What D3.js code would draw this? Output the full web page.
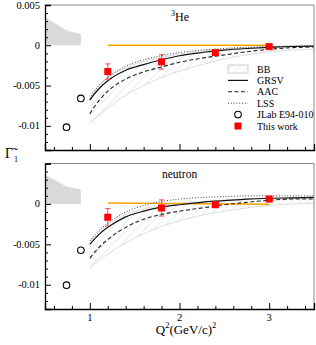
<!DOCTYPE html>
<html>
<head>
<meta charset="utf-8">
<script src="https://cdn.jsdelivr.net/npm/d3@7"></script>
<style>
  body { margin: 0; background: #fff; }
  svg { display: block; font-family: "Liberation Serif", "DejaVu Serif", serif; }
</style>
</head>
<body>
<svg id="chart" width="316" height="345"></svg>
<script>
// Q^2 grid for the model curves
var q2Grid = [1.0, 1.1, 1.2, 1.4, 1.6, 1.8, 2.0, 2.25, 2.5, 2.75, 3.0, 3.25, 3.5];

// 3He panel
var he3GRSV = [-0.0068, -0.0054, -0.0044, -0.0031, -0.0024, -0.0018, -0.0013, -0.0009, -0.0006, -0.0004, -0.00025, -0.00015, -0.0001];
var he3LSS  = [-0.0066, -0.0050, -0.0040, -0.0026, -0.0018, -0.0013, -0.0009, -0.0006, -0.0004, -0.00025, -0.00015, -0.0001, -0.00005];
var he3AAC  = [-0.0085, -0.0069, -0.0057, -0.0042, -0.0033, -0.0027, -0.0021, -0.0016, -0.0012, -0.0008, -0.0005, -0.0003, -0.0002];
var he3BBLo = [-0.0097, -0.0087, -0.0078, -0.0062, -0.0050, -0.0040, -0.0032, -0.0024, -0.0017, -0.0012, -0.0008, -0.0006, -0.0005];
var he3BBHi = [-0.0062, -0.0050, -0.0040, -0.0028, -0.0020, -0.0015, -0.0011, -0.0007, -0.0005, -0.0003, -0.0002, -0.0001, -0.0001];

// neutron panel
var nGRSV = [-0.0050, -0.0038, -0.0029, -0.0016, -0.0009, -0.0004, -0.0001, 0.0002, 0.0004, 0.0006, 0.0007, 0.00075, 0.0008];
var nLSS  = [-0.0046, -0.0033, -0.0024, -0.0010, -0.0002, 0.0003, 0.0006, 0.0008, 0.0009, 0.0010, 0.0010, 0.0010, 0.0010];
var nAAC  = [-0.0067, -0.0054, -0.0044, -0.0029, -0.0019, -0.0013, -0.0009, -0.0005, -0.0001, 0.0002, 0.00045, 0.0006, 0.0006];
var nBBLo = [-0.0080, -0.0070, -0.0062, -0.0048, -0.0037, -0.0028, -0.0021, -0.0014, -0.0009, -0.0005, -0.0002, 0.0000, 0.0001];
var nBBHi = [-0.0046, -0.0035, -0.0026, -0.0013, -0.0006, -0.0002, 0.0001, 0.0003, 0.0005, 0.0006, 0.00065, 0.0007, 0.0007];

// This work (red squares)
var workQ2 = [1.2, 1.8, 2.4, 3.0];
var he3Work = [-0.00326, -0.00206, -0.00091, -0.00017];
var he3WorkErr = [0.00095, 0.0009, 0.00025, 0.0002];
var nWork = [-0.00165, -0.0005, -0.0001, 0.0006];
var nWorkErr = [0.00107, 0.001, 0.0003, 0.0002];

// JLab E94-010 (open circles)
var jlabQ2 = [0.74, 0.90];
var he3Jlab = [-0.01017, -0.0066];
var nJlab = [-0.01005, -0.00573];

// gray shaded region at low Q^2
var shadeQ2 = [0.5, 0.74, 0.9];
var he3Shade = [0.0035, 0.00185, 0.0014];
var nShade = [0.0036, 0.00217, 0.00177];

// orange line
var orangeQ2 = [1.2, 3.0];
var he3Orange = [0, 0];
var nOrange = [0.0001, -0.00005];

var he3YTicks = [0.005, 0, -0.005, -0.01];
var he3YTickLabels = ['0.005', '0', '-0.005', '-0.01'];
var nYTicks = [0, -0.005, -0.01];
var nYTickLabels = ['0', '-0.005', '-0.01'];
var xTicks = [1, 2, 3];

var legendItems = ['BB', 'GRSV', 'AAC', 'LSS', 'JLab E94-010', 'This work'];

var svg = d3.select('#chart');

var x = d3.scaleLinear().domain([0.5, 3.5]).range([45, 314]);

var defs = svg.append('defs');
var pat = defs.append('pattern')
  .attr('id', 'hatch')
  .attr('patternUnits', 'userSpaceOnUse')
  .attr('width', 6)
  .attr('height', 6)
  .attr('patternTransform', 'rotate(45)');
pat.append('line')
  .attr('x1', 0).attr('y1', 0).attr('x2', 0).attr('y2', 6)
  .attr('stroke', '#d2d2d2').attr('stroke-width', 0.9);

var panels = [
  {
    top: 5, bottom: 150, label: '3He', labelX: 171, labelY: 21,
    grsv: he3GRSV, lss: he3LSS, aac: he3AAC, bbLo: he3BBLo, bbHi: he3BBHi,
    work: he3Work, workErr: he3WorkErr, jlab: he3Jlab, shade: he3Shade,
    orange: he3Orange, yTicks: he3YTicks, yLabels: he3YTickLabels,
    xLabels: false, legend: true,
  },
  {
    top: 163.5, bottom: 309, label: 'neutron', labelX: 162, labelY: 178,
    grsv: nGRSV, lss: nLSS, aac: nAAC, bbLo: nBBLo, bbHi: nBBHi,
    work: nWork, workErr: nWorkErr, jlab: nJlab, shade: nShade,
    orange: nOrange, yTicks: nYTicks, yLabels: nYTickLabels,
    xLabels: true, legend: false,
  },
];

panels.forEach(function (p, pi) {
  var y = d3.scaleLinear().domain([-0.013, 0.005]).range([p.bottom, p.top]);
  var g = svg.append('g');

  var clipId = 'clip' + pi;
  defs.append('clipPath').attr('id', clipId)
    .append('rect')
    .attr('x', x(0.5)).attr('y', p.top)
    .attr('width', x(3.5) - x(0.5)).attr('height', p.bottom - p.top);

  var plot = g.append('g').attr('clip-path', 'url(#' + clipId + ')');

  // shaded region
  var shadeArea = d3.area()
    .x(function (d, i) { return x(shadeQ2[i]); })
    .y0(y(0))
    .y1(function (d) { return y(d); });
  plot.append('path')
    .datum(p.shade)
    .attr('d', shadeArea)
    .attr('fill', '#d9d9d9');

  // BB band
  var band = d3.area()
    .x(function (d, i) { return x(q2Grid[i]); })
    .y0(function (d, i) { return y(p.bbLo[i]); })
    .y1(function (d, i) { return y(p.bbHi[i]); })
    .curve(d3.curveMonotoneX);
  plot.append('path')
    .datum(q2Grid)
    .attr('d', band)
    .attr('fill', 'url(#hatch)');

  var line = d3.line()
    .x(function (d, i) { return x(q2Grid[i]); })
    .y(function (d) { return y(d); })
    .curve(d3.curveMonotoneX);

  [p.bbLo, p.bbHi].forEach(function (s) {
    plot.append('path').datum(s).attr('d', line)
      .attr('fill', 'none').attr('stroke', '#dcdcdc').attr('stroke-width', 1);
  });

  // orange line
  plot.append('path')
    .datum(p.orange)
    .attr('d', d3.line()
      .x(function (d, i) { return x(orangeQ2[i]); })
      .y(function (d) { return y(d); }))
    .attr('fill', 'none')
    .attr('stroke', '#f5a300')
    .attr('stroke-width', 1.5);

  // model curves
  plot.append('path').datum(p.aac).attr('d', line)
    .attr('fill', 'none').attr('stroke', '#222').attr('stroke-width', 1.1)
    .attr('stroke-dasharray', '4,2.5');
  plot.append('path').datum(p.lss).attr('d', line)
    .attr('fill', 'none').attr('stroke', '#444').attr('stroke-width', 1)
    .attr('stroke-dasharray', '1,1.8');
  plot.append('path').datum(p.grsv).attr('d', line)
    .attr('fill', 'none').attr('stroke', '#111').attr('stroke-width', 1.2);

  // JLab points
  plot.selectAll('.jlab')
    .data(p.jlab)
    .enter()
    .append('circle')
    .attr('cx', function (d, i) { return x(jlabQ2[i]); })
    .attr('cy', function (d) { return y(d); })
    .attr('r', 3.3)
    .attr('fill', 'none')
    .attr('stroke', '#000')
    .attr('stroke-width', 1.1);

  // This work: error bars + squares
  var wg = plot.selectAll('.work')
    .data(p.work)
    .enter()
    .append('g');
  wg.append('line')
    .attr('x1', function (d, i) { return x(workQ2[i]); })
    .attr('x2', function (d, i) { return x(workQ2[i]); })
    .attr('y1', function (d, i) { return y(d + p.workErr[i]); })
    .attr('y2', function (d, i) { return y(d - p.workErr[i]); })
    .attr('stroke', '#f44').attr('stroke-width', 1);
  [1, -1].forEach(function (sgn) {
    wg.append('line')
      .attr('x1', function (d, i) { return x(workQ2[i]) - 2.5; })
      .attr('x2', function (d, i) { return x(workQ2[i]) + 2.5; })
      .attr('y1', function (d, i) { return y(d + sgn * p.workErr[i]); })
      .attr('y2', function (d, i) { return y(d + sgn * p.workErr[i]); })
      .attr('stroke', '#f44').attr('stroke-width', 1);
  });
  wg.append('rect')
    .attr('x', function (d, i) { return x(workQ2[i]) - 3.5; })
    .attr('y', function (d) { return y(d) - 3.5; })
    .attr('width', 7)
    .attr('height', 7)
    .attr('fill', '#f00');

  // frame
  g.append('line').attr('x1', x(0.5)).attr('x2', x(3.5)).attr('y1', p.top).attr('y2', p.top)
    .attr('stroke', '#888').attr('stroke-width', 1);
  g.append('line').attr('x1', x(3.5)).attr('x2', x(3.5)).attr('y1', p.top).attr('y2', p.bottom)
    .attr('stroke', '#888').attr('stroke-width', 1);

  // y axis
  var yAxis = d3.axisRight(y)
    .tickValues(he3YTicks)
    .tickSize(6)
    .tickFormat('');
  var ya = g.append('g').attr('transform', 'translate(' + x(0.5) + ',0)').call(yAxis);
  var yMinor = d3.axisRight(y)
    .tickValues(d3.range(-13, 6).map(function (v) { return v / 1000; })
      .filter(function (v) { return Math.round(v * 1000) % 5 !== 0; }))
    .tickSize(3)
    .tickFormat('');
  g.append('g').attr('transform', 'translate(' + x(0.5) + ',0)').call(yMinor)
    .select('.domain').remove();
  ya.select('.domain').attr('stroke-width', 1.3);
  g.selectAll('.tick line').attr('stroke', '#000');

  g.selectAll('.ylab')
    .data(p.yTicks)
    .enter()
    .append('text')
    .attr('x', 40)
    .attr('y', function (d) { return y(d) + 3.5; })
    .attr('text-anchor', 'end')
    .attr('font-size', 10.5)
    .text(function (d, i) { return p.yLabels[i]; });

  // x axis
  var xAxis = d3.axisTop(x).tickValues(xTicks).tickSize(6).tickFormat('');
  var xa = g.append('g').attr('transform', 'translate(0,' + p.bottom + ')').call(xAxis);
  xa.select('.domain').attr('stroke-width', 1.3);
  var xMinor = d3.axisTop(x)
    .tickValues(d3.range(3, 18).map(function (v) { return v / 5; })
      .filter(function (v) { return Math.abs(v - Math.round(v)) > 0.01; }))
    .tickSize(3).tickFormat('');
  g.append('g').attr('transform', 'translate(0,' + p.bottom + ')').call(xMinor)
    .select('.domain').remove();
  g.selectAll('.tick line').attr('stroke', '#000');

  if (p.xLabels) {
    g.selectAll('.xlab')
      .data(xTicks)
      .enter()
      .append('text')
      .attr('x', function (d) { return x(d); })
      .attr('y', p.bottom + 12)
      .attr('text-anchor', 'middle')
      .attr('font-size', 10.5)
      .text(function (d) { return d; });
  }

  // panel label
  if (p.label === '3He') {
    var t = g.append('text').attr('x', p.labelX).attr('y', p.labelY).attr('font-size', 12);
    t.append('tspan').attr('font-size', 8).attr('dy', -5).text('3');
    t.append('tspan').attr('dy', 5).text('He');
  } else {
    g.append('text').attr('x', p.labelX).attr('y', p.labelY).attr('font-size', 11.5).text(p.label);
  }

  // legend
  if (p.legend) {
    var lx = 228, ly0 = 69, dy = 11.4;
    var lg = g.append('g');
    legendItems.forEach(function (name, i) {
      var cy = ly0 + i * dy;
      lg.append('text').attr('x', 257).attr('y', cy + 3.5).attr('font-size', 10).text(name);
    });
    lg.append('rect').attr('x', lx).attr('y', ly0 - 4).attr('width', 20).attr('height', 8)
      .attr('fill', 'url(#hatch)').attr('stroke', '#ccc').attr('stroke-width', 1);
    lg.append('line').attr('x1', lx).attr('x2', lx + 20).attr('y1', ly0 + dy).attr('y2', ly0 + dy)
      .attr('stroke', '#111').attr('stroke-width', 1.2);
    lg.append('line').attr('x1', lx).attr('x2', lx + 20).attr('y1', ly0 + 2 * dy).attr('y2', ly0 + 2 * dy)
      .attr('stroke', '#222').attr('stroke-width', 1.1).attr('stroke-dasharray', '4,2.5');
    lg.append('line').attr('x1', lx).attr('x2', lx + 20).attr('y1', ly0 + 3 * dy).attr('y2', ly0 + 3 * dy)
      .attr('stroke', '#444').attr('stroke-width', 1).attr('stroke-dasharray', '1,1.8');
    lg.append('circle').attr('cx', lx + 10).attr('cy', ly0 + 4 * dy).attr('r', 3.3)
      .attr('fill', 'none').attr('stroke', '#000').attr('stroke-width', 1.1);
    lg.append('rect').attr('x', lx + 10 - 3.5).attr('y', ly0 + 5 * dy - 3.5)
      .attr('width', 7).attr('height', 7).attr('fill', '#f00');
  }
});

// y label: Gamma tilde sub 1, one text element with a combining tilde
var yl = svg.append('text').attr('x', 5).attr('y', 158).attr('font-size', 14);
yl.append('tspan').text('\u0393\u0303');
yl.append('tspan').attr('font-size', 8).attr('dx', 1).attr('dy', 4).text('1');

// x label
var xl = svg.append('text').attr('x', 186).attr('y', 334).attr('text-anchor', 'middle').attr('font-size', 13);
xl.append('tspan').text('Q');
xl.append('tspan').attr('font-size', 8.5).attr('dy', -6).text('2');
xl.append('tspan').attr('dy', 6).text('(GeV/c)');
xl.append('tspan').attr('font-size', 8.5).attr('dy', -6).text('2');
</script>
</body>
</html>
